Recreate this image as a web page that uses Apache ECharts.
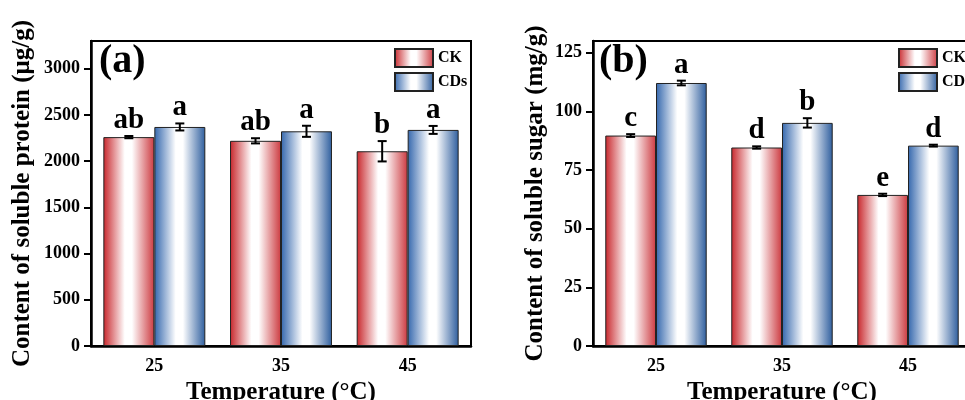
<!DOCTYPE html>
<html>
<head>
<meta charset="utf-8">
<script src="https://cdn.jsdelivr.net/npm/echarts@6/dist/echarts.min.js"></script>
<style>html,body{margin:0;padding:0;background:#fff;}#c{width:965px;height:400px;}</style>
</head>
<body>
<div id="c"></div>
<script>
// ---- data ----
const categories = ['25', '35', '45'];
const proteinCK = [2260, 2220, 2107];
const proteinCKErr = [12, 28, 110];
const proteinCDs = [2370, 2323, 2338];
const proteinCDsErr = [38, 60, 43];
const proteinCKLetters = ['ab', 'ab', 'b'];
const proteinCDsLetters = ['a', 'a', 'a'];
const sugarCK = [89.7, 84.6, 64.4];
const sugarCKErr = [0.6, 0.5, 0.5];
const sugarCDs = [112.1, 95.1, 85.4];
const sugarCDsErr = [1.0, 2.0, 0.4];
const sugarCKLetters = ['c', 'd', 'e'];
const sugarCDsLetters = ['a', 'b', 'd'];

const FONT = '"Liberation Serif", "Times New Roman", serif';
const GAP = 0.195;
const chart = echarts.init(document.getElementById('c'));

const redGrad = new echarts.graphic.LinearGradient(0, 0, 1, 0, [
  {offset: 0, color: '#c8262b'}, {offset: 0.42, color: '#ffffff'},
  {offset: 0.56, color: '#ffffff'}, {offset: 1, color: '#cc3a40'}]);
const blueGrad = new echarts.graphic.LinearGradient(0, 0, 1, 0, [
  {offset: 0, color: '#3467ad'}, {offset: 0.42, color: '#ffffff'},
  {offset: 0.56, color: '#ffffff'}, {offset: 1, color: '#2e5e9e'}]);

function errRender(letters, sign) {
  return function (params, api) {
    const idx = api.value(0), v = api.value(1), e = api.value(2);
    const c = api.coord([idx, v]);
    const bw = api.size([1, 0])[0];
    const barW = bw * (1 - GAP) / 2;
    const x = c[0] + sign * barW / 2;
    const top = api.coord([idx, v + e])[1];
    const bot = api.coord([idx, v - e])[1];
    const st = {stroke: '#000', lineWidth: 2};
    return {
      type: 'group',
      children: [
        {type: 'line', shape: {x1: x, y1: top, x2: x, y2: bot}, style: st},
        {type: 'line', shape: {x1: x - 4.5, y1: top, x2: x + 4.5, y2: top}, style: st},
        {type: 'line', shape: {x1: x - 4.5, y1: bot, x2: x + 4.5, y2: bot}, style: st},
        {type: 'text', x: x, y: top - 1, style: {text: letters[params.dataIndex], fill: '#000',
          font: 'bold 29px ' + FONT, textAlign: 'center', textVerticalAlign: 'bottom'}}
      ]
    };
  };
}
function errData(vals, errs) { return vals.map((v, i) => [i, v, errs[i]]); }

const axisLineStyle = {color: '#000', width: 2.5};
function mainX(gridIndex) {
  return {
    type: 'category', gridIndex, data: categories, boundaryGap: true,
    axisLine: {lineStyle: axisLineStyle},
    axisTick: {alignWithLabel: true, length: 6, lineStyle: {width: 2, color: '#000'}},
    axisLabel: {color: '#000', fontFamily: FONT, fontWeight: 'bold', fontSize: 18, margin: 11},
    name: 'Temperature (°C)', nameLocation: 'middle', nameGap: 29,
    nameTextStyle: {color: '#000', fontFamily: FONT, fontWeight: 'bold', fontSize: 25}
  };
}
function auxX(gridIndex) {
  return {
    type: 'category', gridIndex, data: categories, boundaryGap: true,
    axisLine: {show: false}, axisLabel: {show: false},
    axisTick: {length: 4, lineStyle: {width: 1.5, color: '#000'}}
  };
}
function yAx(gridIndex, max, interval, name, gap) {
  return {
    type: 'value', gridIndex, min: 0, max, interval,
    splitLine: {show: false},
    axisLine: {show: true, lineStyle: axisLineStyle},
    axisTick: {show: true, length: 7, lineStyle: {width: 2, color: '#000'}},
    axisLabel: {color: '#000', fontFamily: FONT, fontWeight: 'bold', fontSize: 18, margin: 11,
      showMaxLabel: false, formatter: v => String(v)},
    name, nameLocation: 'middle', nameGap: gap,
    nameTextStyle: {color: '#000', fontFamily: FONT, fontWeight: 'bold', fontSize: 25}
  };
}
function barSeries(name, data, xi, yi, color) {
  return {
    type: 'bar', name, data, xAxisIndex: xi, yAxisIndex: yi,
    barGap: '0%', barCategoryGap: (GAP * 100) + '%',
    itemStyle: {color, borderColor: '#222', borderWidth: 1},
    emphasis: {disabled: true}
  };
}
function legend(left) {
  return {
    orient: 'vertical', left, top: 43, itemWidth: 38, itemHeight: 18, itemGap: 4,
    icon: 'rect',
    data: ['CK', 'CDs'], selectedMode: false,
    textStyle: {color: '#000', fontFamily: FONT, fontWeight: 'bold', fontSize: 16, padding: [0, 0, 0, 0]}
  };
}

chart.setOption({
  animation: false,
  grid: [
    {left: 91, top: 41, width: 380, bottom: 54, show: true, borderColor: '#000', borderWidth: 2,
      containLabel: false, outerBoundsMode: 'none'},
    {left: 593, top: 41, width: 378, bottom: 54, show: true, borderColor: '#000', borderWidth: 2,
      containLabel: false, outerBoundsMode: 'none'}
  ],
  xAxis: [mainX(0), mainX(1), auxX(0), auxX(1)],
  yAxis: [
    yAx(0, 3300, 500, 'Content of soluble protein (μg/g)', 56),
    yAx(1, 130, 25, 'Content of soluble sugar (mg/g)', 45)
  ],
  legend: [legend(389), legend(893)],
  graphic: [
    {type: 'text', left: 99, top: 42, style: {text: '(a)', font: 'bold 40px ' + FONT, fill: '#000'}},
    {type: 'text', left: 599, top: 42, style: {text: '(b)', font: 'bold 40px ' + FONT, fill: '#000'}}
  ],
  series: [
    barSeries('CK', proteinCK, 0, 0, redGrad),
    barSeries('CDs', proteinCDs, 0, 0, blueGrad),
    {type: 'custom', xAxisIndex: 0, yAxisIndex: 0, renderItem: errRender(proteinCKLetters, -1), data: errData(proteinCK, proteinCKErr), z: 5, silent: true},
    {type: 'custom', xAxisIndex: 0, yAxisIndex: 0, renderItem: errRender(proteinCDsLetters, 1), data: errData(proteinCDs, proteinCDsErr), z: 5, silent: true},
    barSeries('CK', sugarCK, 1, 1, redGrad),
    barSeries('CDs', sugarCDs, 1, 1, blueGrad),
    {type: 'custom', xAxisIndex: 1, yAxisIndex: 1, renderItem: errRender(sugarCKLetters, -1), data: errData(sugarCK, sugarCKErr), z: 5, silent: true},
    {type: 'custom', xAxisIndex: 1, yAxisIndex: 1, renderItem: errRender(sugarCDsLetters, 1), data: errData(sugarCDs, sugarCDsErr), z: 5, silent: true}
  ]
});
</script>
</body>
</html>
